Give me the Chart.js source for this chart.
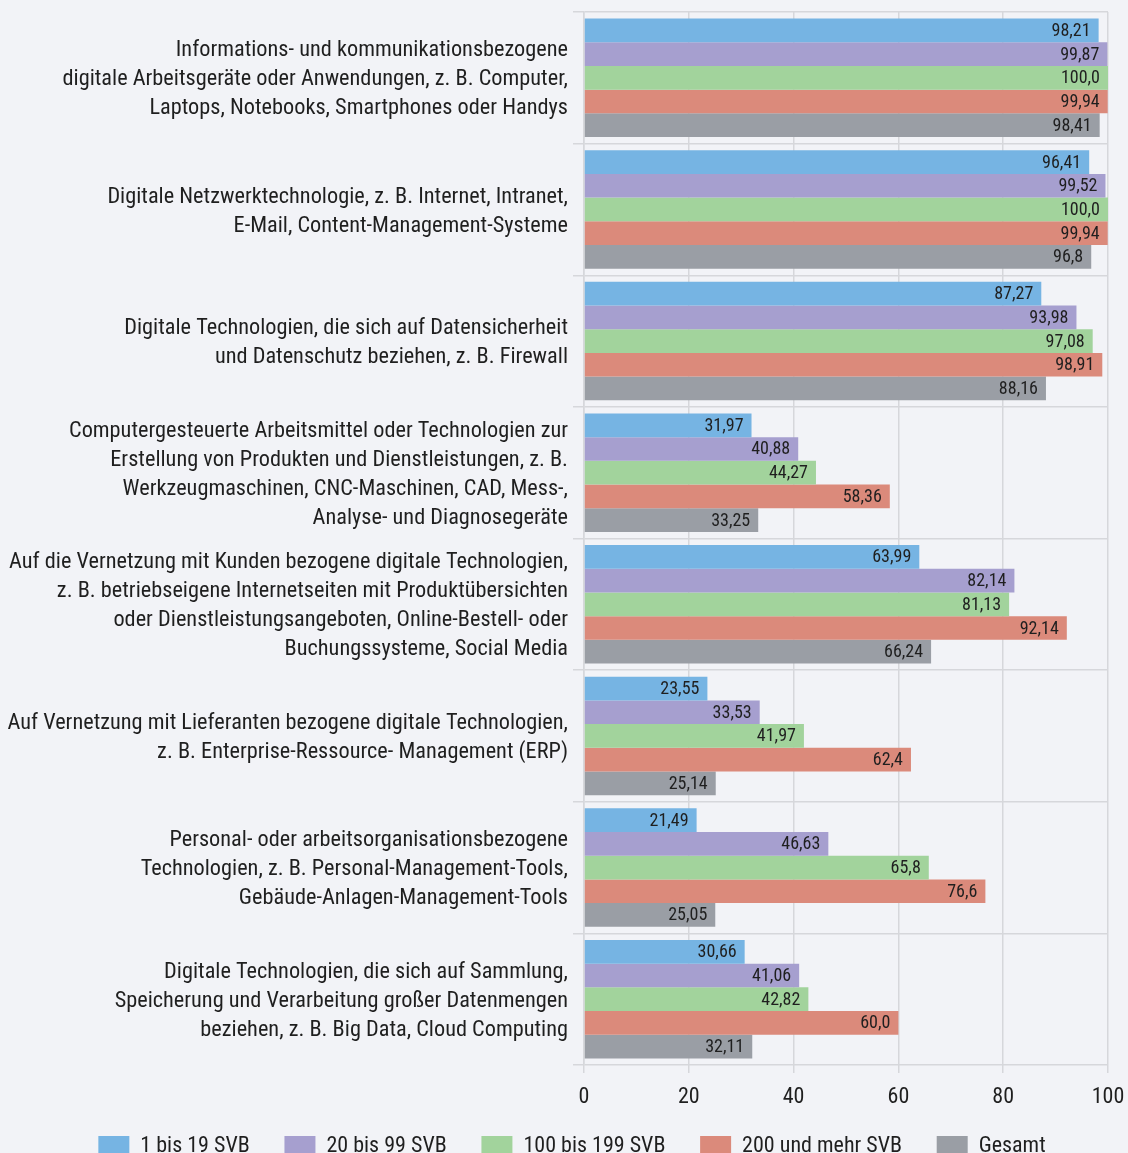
<!DOCTYPE html>
<html lang="de">
<head>
<meta charset="utf-8">
<title>Digitale Technologien nach Betriebsgröße</title>
<script src="https://cdn.jsdelivr.net/npm/chart.js@4.4.0/dist/chart.umd.min.js"></script>
<style>
  html, body { margin: 0; padding: 0; background: #f2f3f7; overflow: hidden; }
  #wrap { width: 1128px; height: 1167px; position: relative; }
</style>
</head>
<body>
<div id="wrap"><canvas id="chart"></canvas></div>
<script>
// Kategorien (mehrzeilige Beschriftung)
const categories = [
  ['Informations- und kommunikationsbezogene', 'digitale Arbeitsgeräte oder Anwendungen, z. B. Computer,', 'Laptops, Notebooks, Smartphones oder Handys'],
  ['Digitale Netzwerktechnologie, z. B. Internet, Intranet,', 'E-Mail, Content-Management-Systeme'],
  ['Digitale Technologien, die sich auf Datensicherheit', 'und Datenschutz beziehen, z. B. Firewall'],
  ['Computergesteuerte Arbeitsmittel oder Technologien zur', 'Erstellung von Produkten und Dienstleistungen, z. B.', 'Werkzeugmaschinen, CNC-Maschinen, CAD, Mess-,', 'Analyse- und Diagnosegeräte'],
  ['Auf die Vernetzung mit Kunden bezogene digitale Technologien,', 'z. B. betriebseigene Internetseiten mit Produktübersichten', 'oder Dienstleistungsangeboten, Online-Bestell- oder', 'Buchungssysteme, Social Media'],
  ['Auf Vernetzung mit Lieferanten bezogene digitale Technologien,', 'z. B. Enterprise-Ressource- Management (ERP)'],
  ['Personal- oder arbeitsorganisationsbezogene', 'Technologien, z. B. Personal-Management-Tools,', 'Gebäude-Anlagen-Management-Tools'],
  ['Digitale Technologien, die sich auf Sammlung,', 'Speicherung und Verarbeitung großer Datenmengen', 'beziehen, z. B. Big Data, Cloud Computing']
];

// Serienwerte (Anteile in %)
const svb1to19    = [98.21, 96.41, 87.27, 31.97, 63.99, 23.55, 21.49, 30.66];
const svb20to99   = [99.87, 99.52, 93.98, 40.88, 82.14, 33.53, 46.63, 41.06];
const svb100to199 = [100.0, 100.0, 97.08, 44.27, 81.13, 41.97, 65.8, 42.82];
const svb200plus  = [99.94, 99.94, 98.91, 58.36, 92.14, 62.4, 76.6, 60.0];
const gesamt      = [98.41, 96.8, 88.16, 33.25, 66.24, 25.14, 25.05, 32.11];

const seriesNames = ['1 bis 19 SVB', '20 bis 99 SVB', '100 bis 199 SVB', '200 und mehr SVB', 'Gesamt'];
const seriesColors = ['#76b4e3', '#a69fcf', '#a2d39c', '#db8a7b', '#9a9ea5'];

// Achse
const xMin = 0;
const xMax = 100;
const xStep = 20;

const FONT = "'Roboto Condensed', 'DejaVu Sans Condensed', sans-serif";
const TEXT = '#1f1f1f';
const GRID = '#d6d7db';

// Zahlen im deutschen Format, mindestens eine Nachkommastelle
function fmt(v) {
    const s = Number.isInteger(v) ? v.toFixed(1) : String(v);
    return s.replace('.', ',');
}

// Werte am rechten Balkenende, innerhalb des Balkens
const valueLabels = {
    id: 'valueLabels',
    afterDatasetsDraw(chart) {
        const ctx = chart.ctx;
        ctx.save();
        ctx.font = '18px ' + FONT;
        ctx.fillStyle = TEXT;
        ctx.textAlign = 'right';
        ctx.textBaseline = 'middle';
        chart.data.datasets.forEach((ds, i) => {
            const meta = chart.getDatasetMeta(i);
            meta.data.forEach((bar, j) => {
                ctx.fillText(fmt(ds.data[j]), bar.x - 8, bar.y + 1);
            });
        });
        ctx.restore();
    }
};

// Legende etwas nach rechts rücken (wie im Original)
const legendShift = {
    id: 'legendShift',
    afterLayout(chart) {
        if (chart.legend) {
            chart.legend.left += 18;
            chart.legend.right += 18;
        }
    }
};

const allSeries = [svb1to19, svb20to99, svb100to199, svb200plus, gesamt];

new Chart(document.getElementById('chart'), {
    type: 'bar',
    data: {
        labels: categories,
        datasets: allSeries.map((d, i) => ({
            label: seriesNames[i],
            data: d,
            backgroundColor: seriesColors[i],
            borderWidth: 0,
            categoryPercentage: 0.9,
            barPercentage: 1.0
        }))
    },
    options: {
        indexAxis: 'y',
        responsive: true,
        maintainAspectRatio: false,
        animation: false,
        layout: { padding: { top: 12, right: 20, left: 0, bottom: 0 } },
        scales: {
            x: {
                min: xMin,
                max: xMax,
                ticks: { stepSize: xStep, color: TEXT, font: { family: FONT, size: 22 }, padding: 11 },
                grid: { color: GRID, lineWidth: 1.5, tickLength: 8 },
                border: { display: false },
                afterFit: (scale) => {
                    scale.height = 55;
                    scale.paddingRight = 0;
                }
            },
            y: {
                ticks: { color: TEXT, font: { family: FONT, size: 22.3, lineHeight: 1.3 }, padding: 5, labelOffset: 2 },
                grid: { color: GRID, lineWidth: 1.5, tickLength: 11, offset: true },
                border: { display: true, color: GRID, width: 1.5 },
                afterFit: (scale) => {
                    scale.width = 584;
                    // keine Zusatzabstände für mehrzeilige Randbeschriftungen
                    scale.paddingTop = 0;
                    scale.paddingBottom = 0;
                }
            }
        },
        plugins: {
            legend: {
                position: 'bottom',
                labels: {
                    boxWidth: 31,
                    boxHeight: 20,
                    padding: 15,
                    color: TEXT,
                    font: { family: FONT, size: 22 },
                    // Abstand zwischen den Einträgen über Leerraum hinter dem Text
                    generateLabels: (chart) => {
                        const items = Chart.defaults.plugins.legend.labels.generateLabels(chart);
                        items.forEach((it, i) => {
                            if (i < items.length - 1) it.text = it.text + '\u2002\u2002';
                        });
                        return items;
                    }
                }
            },
            tooltip: { enabled: false }
        }
    },
    plugins: [valueLabels, legendShift]
});
</script>
</body>
</html>
